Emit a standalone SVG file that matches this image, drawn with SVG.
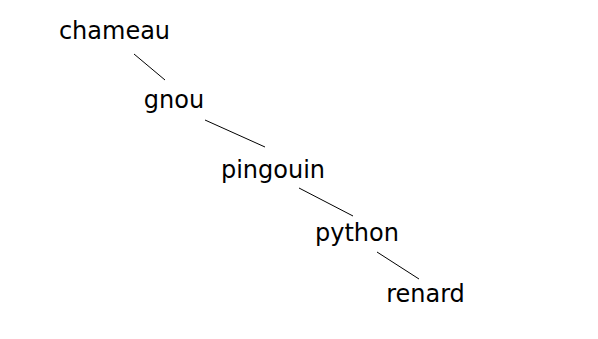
<svg xmlns="http://www.w3.org/2000/svg" width="598" height="339" viewBox="0 0 598 339">
  <style>
    .label { font-family: "DejaVu Sans", sans-serif; font-size: 24px; fill: #000; text-anchor: middle; }
    .edge { stroke: #000; stroke-width: 1; fill: none; }
  </style>
  <rect width="598" height="339" fill="#fff"/>
  <g id="edges">
    <line class="edge" x1="134" y1="54" x2="165" y2="80"/>
    <line class="edge" x1="205" y1="120" x2="265" y2="147"/>
    <line class="edge" x1="299" y1="188" x2="353" y2="216"/>
    <line class="edge" x1="377" y1="252" x2="419" y2="279"/>
  </g>
  <g id="chameau"><text class="label" x="114.5" y="39">chameau</text></g>
  <g id="gnou"><text class="label" x="174" y="108">gnou</text></g>
  <g id="pingouin"><text class="label" x="273" y="178">pingouin</text></g>
  <g id="python"><text class="label" x="357" y="241">python</text></g>
  <g id="renard"><text class="label" x="425.5" y="302">renard</text></g>
</svg>
